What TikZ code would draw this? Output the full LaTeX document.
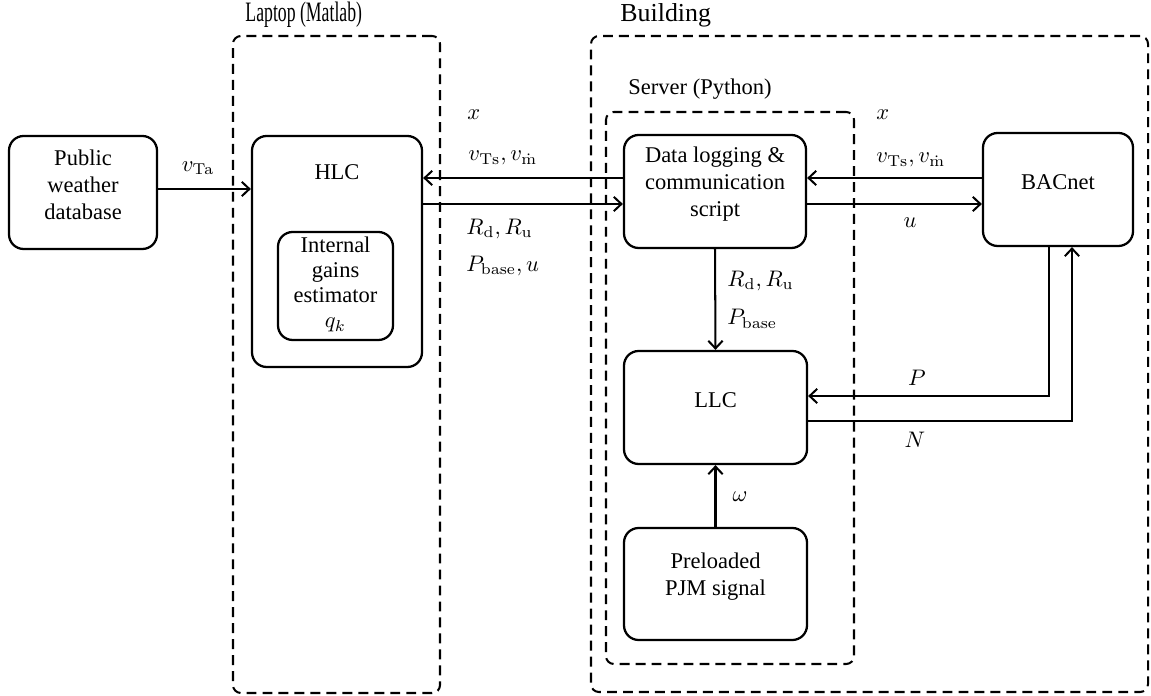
\documentclass[tikz,border=0pt]{standalone}
\usepackage[no-math]{fontspec}
\setmainfont{Liberation Serif}
\usetikzlibrary{arrows.meta,fit}
\tikzset{
  blk/.style={draw, line width=1pt, rounded corners=6.5pt, inner sep=0pt, align=center, font=\fontsize{10}{12}\selectfont},
  grp/.style={draw, line width=0.9pt, dash pattern=on 4.4pt off 2.7pt, rounded corners=3.5pt, inner sep=0pt},
  conn/.style={line width=0.9pt, -{Straight Barb[length=3.4pt,width=6.4pt]}},
  lbl/.style={inner sep=0pt, font=\fontsize{10}{12}\selectfont},
  ttl/.style={inner sep=0pt, anchor=west},
}
\begin{document}
\begin{tikzpicture}[x=0.4444pt,y=-0.4444pt]
\useasboundingbox (0,0) rectangle (1151,696);

% groups
\node[grp, fit={(233,36) (440,693)}] (laptop) {};
\node[grp, fit={(591,36) (1148,692)}] (building) {};
\node[grp, fit={(606,112) (854,664)}] (server) {};
\node[ttl, font=\fontsize{12.5}{14}\selectfont] (laptopt) at (245,15) {\scalebox{0.63}[1]{Laptop (Matlab)}};
\node[ttl, font=\fontsize{11.5}{13}\selectfont] (buildingt) at (620,15) {Building};
\node[ttl, font=\fontsize{10}{12}\selectfont] (servert) at (628,89) {Server (Python)};

% blocks
\node[blk, fit={(9,136) (157,249)}] (weather) {Public\\weather\\database};
\node[blk, fit={(252,136) (422,367)}] (hlc) {};
\node[lbl] (hlct) at (337,172) {HLC};
\node[blk, fit={(278,232) (393,340)}] (ige) {};
\node[lbl, align=center, font=\fontsize{10}{11}\selectfont] (iget) at (335.5,270) {Internal\\gains\\estimator};
\node[lbl] (qk) at (335.5,325) {$q_k$};
\node[blk, fit={(624,135) (806,248)}] (dlc) {Data logging \&\\communication\\script};
\node[blk, fit={(983,133) (1133,246)}] (bac) {BACnet};
\node[blk, fit={(624,351) (807,464)}] (llc) {LLC};
\node[blk, fit={(624,528) (807,640)}] (pjm) {Preloaded\\PJM signal};

% helper coordinates
\coordinate (rowW) at (0,189);
\coordinate (rowA) at (0,178);
\coordinate (rowB) at (0,204);
\coordinate (rowP) at (0,396);
\coordinate (rowN) at (0,421);
\coordinate (colP) at (1049,0);
\coordinate (colN) at (1072,0);

% connectors
\draw[conn] (weather.east |- rowW) -- (hlc.west |- rowW);
\draw[conn] (dlc.west |- rowA) -- (hlc.east |- rowA);
\draw[conn] (hlc.east |- rowB) -- (dlc.west |- rowB);
\draw[conn] (bac.west |- rowA) -- (dlc.east |- rowA);
\draw[conn] (dlc.east |- rowB) -- (bac.west |- rowB);
\draw[conn] (dlc.south) -- (llc.north);
\draw[conn] (pjm.north) -- (llc.south);
\draw[conn] (bac.south -| colP) -- (colP |- rowP) -- (llc.east |- rowP);
\draw[conn] (llc.east |- rowN) -- (colN |- rowN) -- (bac.south -| colN);

% labels
\node[lbl] (lta) at (198,168) {$v_{\mathrm{Ta}}$};
\node[lbl, anchor=west] (lx1) at (467,115) {$x$};
\node[lbl, anchor=west] (lv1) at (468,158) {$v_{\mathrm{Ts}}, v_{\dot{\mathrm{m}}}$};
\node[lbl, anchor=west] (lr1) at (466,229) {$R_{\mathrm{d}}, R_{\mathrm{u}}$};
\node[lbl, anchor=west] (lp1) at (466,266) {$P_{\mathrm{base}}, u$};
\node[lbl, anchor=west] (lx2) at (876,115) {$x$};
\node[lbl, anchor=west] (lv2) at (876,160) {$v_{\mathrm{Ts}}, v_{\dot{\mathrm{m}}}$};
\node[lbl] (lu2) at (910,223) {$u$};
\node[lbl, anchor=west] (lr3) at (727,281) {$R_{\mathrm{d}}, R_{\mathrm{u}}$};
\node[lbl, anchor=west] (lp3) at (727,319) {$P_{\mathrm{base}}$};
\node[lbl] (lP) at (917,378) {$P$};
\node[lbl] (lN) at (915,440) {$N$};
\node[lbl] (lw) at (740,497) {$\omega$};
\end{tikzpicture}
\end{document}
